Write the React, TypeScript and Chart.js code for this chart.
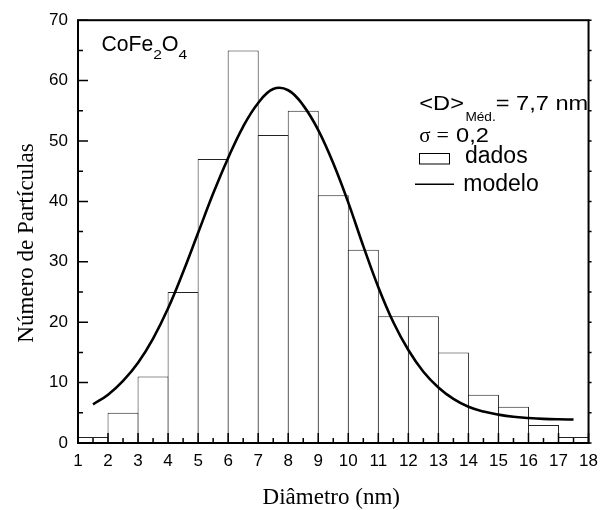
import React, { useEffect, useRef } from 'react';
import { Chart, registerables } from 'chart.js';

Chart.register(...registerables);

// ---- data ----
const binCenters = [1.5, 2.5, 3.5, 4.5, 5.5, 6.5, 7.5, 8.5, 9.5, 10.5, 11.5, 12.5, 13.5, 14.5, 15.5, 16.5, 17.5];
const counts = [1, 5, 11, 25, 47, 65, 51, 55, 41, 32, 21, 21, 15, 8, 6, 3, 1];

const curveX = [1.5, 2, 2.5, 3, 3.5, 4, 4.5, 5, 5.5, 6, 6.5, 7, 7.5, 8, 8.5, 9, 9.5, 10, 10.5, 11, 11.5, 12, 12.5, 13, 13.5, 14, 14.5, 15, 15.5, 16, 16.5, 17, 17.5];
const curveY = [6.4, 8.0, 10.3, 13.3, 17.3, 22.3, 28.3, 34.8, 41.3, 47.2, 52.4, 56.3, 58.6, 58.4, 55.9, 51.8, 46.3, 39.8, 32.6, 25.8, 20.0, 15.4, 11.8, 9.2, 7.3, 6.0, 5.2, 4.7, 4.35, 4.15, 4.0, 3.92, 3.88];

const X_MIN = 1;
const X_MAX = 18;
const Y_MIN = 0;
const Y_MAX = 70;
const X_STEP = 1;
const Y_STEP = 10;

const titleX = 'Diâmetro (nm)';
const titleY = 'Número de Partículas';
const sampleLabel = ['CoFe', '2', 'O', '4'];
const meanLabel = ['<D>', 'Méd.', '= 7,7 nm'];
const sigmaLabel = ['σ', '=', '0,2'];
const legendLabels = ['dados', 'modelo'];

const SANS = '"Liberation Sans", Arial, Helvetica, sans-serif';
const SERIF = '"Liberation Serif", "Times New Roman", Times, serif';

function sText(ctx: CanvasRenderingContext2D, text: string, x: number, y: number, font: string, sx = 1): number {
  ctx.save();
  ctx.font = font;
  ctx.textAlign = 'left';
  ctx.textBaseline = 'alphabetic';
  ctx.translate(x, y);
  ctx.scale(sx, 1);
  ctx.fillStyle = '#000';
  ctx.fillText(text, 0, 0);
  const w = ctx.measureText(text).width * sx;
  ctx.restore();
  return x + w;
}

const decorPlugin = {
  id: 'decor',
  afterDatasetsDraw(chart: any) {
    const ctx: CanvasRenderingContext2D = chart.ctx;
    const xs = chart.scales.x;
    const ys = chart.scales.y;
    const { left, right, top, bottom } = chart.chartArea;
    ctx.save();
    ctx.strokeStyle = '#000';
    ctx.lineWidth = 2;
    ctx.strokeRect(left, top, right - left, bottom - top);
    ctx.lineWidth = 1.5;
    ctx.beginPath();
    for (let v = X_MIN; v <= X_MAX + 1e-9; v += 0.5) {
      const px = xs.getPixelForValue(v);
      const len = Math.abs(v - Math.round(v)) < 1e-9 ? 10 : 5;
      ctx.moveTo(px, bottom);
      ctx.lineTo(px, bottom - len);
    }
    for (let v = Y_MIN; v <= Y_MAX + 1e-9; v += 5) {
      const py = ys.getPixelForValue(v);
      const len = v % 10 === 0 ? 10 : 5;
      ctx.moveTo(left, py);
      ctx.lineTo(left + len, py);
      ctx.moveTo(right, py);
      ctx.lineTo(right + 3, py);
    }
    ctx.stroke();
    ctx.restore();
  },
  afterDraw(chart: any) {
    const ctx: CanvasRenderingContext2D = chart.ctx;
    const { left, right } = chart.chartArea;
    ctx.save();
    // axis titles
    ctx.fillStyle = '#000';
    ctx.font = `23px ${SERIF}`;
    ctx.textAlign = 'center';
    ctx.textBaseline = 'alphabetic';
    ctx.fillText(titleX, (left + right) / 2 - 2, 504);
    ctx.save();
    ctx.translate(33, 243);
    ctx.rotate(-Math.PI / 2);
    ctx.fillText(titleY, 0, 0);
    ctx.restore();

    // sample label CoFe2O4
    let cx = sText(ctx, sampleLabel[0], 101.5, 50.7, `22px ${SANS}`, 0.96);
    cx = sText(ctx, sampleLabel[1], cx, 59, `13px ${SANS}`, 1.2);
    cx = sText(ctx, sampleLabel[2], cx, 50.7, `22px ${SANS}`, 0.98);
    sText(ctx, sampleLabel[3], cx, 59, `13px ${SANS}`, 1.2);

    // <D>Méd. = 7,7 nm
    let mx = sText(ctx, meanLabel[0], 419.3, 110, `20px ${SANS}`, 1.18);
    mx = sText(ctx, meanLabel[1], mx + 1.5, 120.7, `13px ${SANS}`, 1.05);
    sText(ctx, meanLabel[2], mx, 110, `20px ${SANS}`, 1.18);

    // sigma = 0,2
    sText(ctx, sigmaLabel[0], 419.3, 142.3, `21px ${SERIF}`, 1);
    sText(ctx, sigmaLabel[1], 436.5, 142.3, `22px ${SERIF}`, 1);
    sText(ctx, sigmaLabel[2], 456, 142.3, `20px ${SANS}`, 1.18);

    // legend
    ctx.strokeStyle = '#000';
    ctx.lineWidth = 1;
    ctx.strokeRect(419.5, 153.5, 30, 10.5);
    sText(ctx, legendLabels[0], 465, 162.7, `23px ${SANS}`, 1);
    ctx.lineWidth = 1.5;
    ctx.beginPath();
    ctx.moveTo(415, 184.3);
    ctx.lineTo(454, 184.3);
    ctx.stroke();
    sText(ctx, legendLabels[1], 463.3, 191, `23px ${SANS}`, 1);
    ctx.restore();
  },
};

export default function App() {
  const ref = useRef<HTMLCanvasElement | null>(null);

  useEffect(() => {
    if (!ref.current) return;
    const barData = binCenters.map((x, i) => ({ x, y: counts[i] }));
    const lineData = curveX.map((x, i) => ({ x, y: curveY[i] }));
    const chart = new Chart(ref.current, {
      type: 'bar',
      data: {
        datasets: [
          {
            type: 'line',
            label: legendLabels[1],
            data: lineData,
            borderColor: '#000',
            borderWidth: 2.6,
            pointRadius: 0,
            fill: false,
            tension: 0.4,
            order: 0,
          } as any,
          {
            type: 'bar',
            label: legendLabels[0],
            data: barData,
            backgroundColor: '#fff',
            borderColor: '#222',
            borderWidth: 1,
            barPercentage: 1.0333,
            categoryPercentage: 1,
            grouped: false,
            order: 1,
          } as any,
        ],
      },
      options: {
        animation: false,
        responsive: false,
        maintainAspectRatio: false,
        devicePixelRatio: 1,
        layout: { padding: { top: 18, right: 17, left: 0, bottom: 0 } },
        plugins: {
          legend: { display: false },
          tooltip: { enabled: false },
          title: { display: false },
        },
        scales: {
          x: {
            type: 'linear',
            min: X_MIN,
            max: X_MAX,
            offset: false,
            grid: { display: false, drawTicks: false },
            border: { display: false },
            ticks: {
              stepSize: X_STEP,
              autoSkip: false,
              maxRotation: 0,
              minRotation: 0,
              padding: 8,
              color: '#000',
              font: { family: SANS, size: 17 },
            },
            afterFit: (s: any) => {
              s.height = 67;
            },
          },
          y: {
            type: 'linear',
            min: Y_MIN,
            max: Y_MAX,
            grid: { display: false, drawTicks: false },
            border: { display: false },
            ticks: {
              stepSize: Y_STEP,
              padding: 10,
              color: '#000',
              font: { family: SANS, size: 17 },
            },
            afterFit: (s: any) => {
              s.width = 78;
            },
          },
        },
      } as any,
      plugins: [decorPlugin],
    });
    return () => chart.destroy();
  }, []);

  return (
    <div style={{ position: 'absolute', left: 0, top: 0, width: 606, height: 510, background: '#fff' }}>
      <canvas ref={ref} width={606} height={510} style={{ width: 606, height: 510, display: 'block' }} />
    </div>
  );
}
